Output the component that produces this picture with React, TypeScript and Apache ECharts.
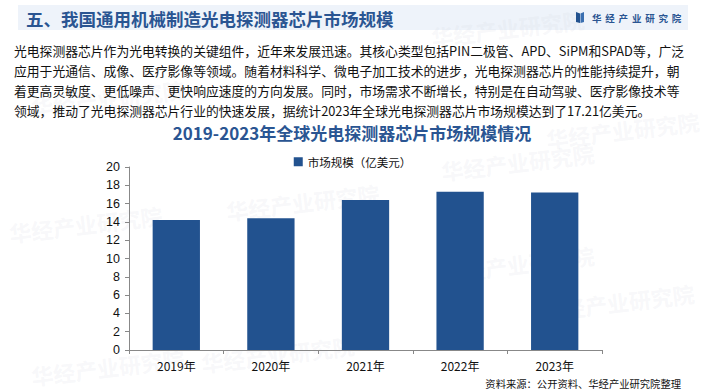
import React, { useEffect, useRef } from "react";
import * as echarts from "echarts";

const categories = ["2019年", "2020年", "2021年", "2022年", "2023年"];
const marketSize = [14.2, 14.4, 16.4, 17.3, 17.21];
const seriesName = "市场规模（亿美元）";
const headerTitle = "五、我国通用机械制造光电探测器芯片市场规模";
const chartTitle = "2019-2023年全球光电探测器芯片市场规模情况";
const paragraphLines = [
  "光电探测器芯片作为光电转换的关键组件，近年来发展迅速。其核心类型包括PIN二极管、APD、SiPM和SPAD等，广泛",
  "应用于光通信、成像、医疗影像等领域。随着材料科学、微电子加工技术的进步，光电探测器芯片的性能持续提升，朝",
  "着更高灵敏度、更低噪声、更快响应速度的方向发展。同时，市场需求不断增长，特别是在自动驾驶、医疗影像技术等",
  "领域，推动了光电探测器芯片行业的快速发展，据统计2023年全球光电探测器芯片市场规模达到了17.21亿美元。",
];
const sourceText = "资料来源：公开资料、华经产业研究院整理";
const brandText = "华经产业研究院";

const CJK = '"Noto Sans CJK SC", "Noto Sans", sans-serif';
const LAT = '"Liberation Sans", Arial, sans-serif';
const BLUE = "#22528f";

export default function App() {
  const ref = useRef<HTMLDivElement>(null);
  useEffect(() => {
    if (!ref.current) return;
    const chart = echarts.init(ref.current, null, { renderer: "svg" });

    const watermarks = [
      [430, 26], [30, 96], [440, 160], [225, 200], [8, 222], [545, 128],
      [440, 262], [200, 352], [30, 365], [540, 300],
    ].map(([x, y]) => ({
      type: "text",
      x,
      y,
      rotation: 0.12,
      z: 0,
      silent: true,
      style: {
        text: brandText,
        font: `bold 22px ${CJK}`,
        fill: "rgba(200,205,215,0.15)",
      },
    }));

    const graphic: any[] = [
      {
        type: "rect",
        shape: { x: 18, y: 5, width: 670, height: 25 },
        style: { fill: "#eef3fa" },
        z: -1,
      },
      ...watermarks,
      {
        type: "text",
        x: 26,
        y: 18,
        style: {
          text: headerTitle,
          font: `bold 17.5px ${CJK}`,
          fill: "#2a5592",
          textVerticalAlign: "middle",
        },
      },
      {
        type: "polygon",
        shape: { points: [[576, 12], [580, 13.5], [580, 23], [576, 22]] },
        style: { fill: BLUE },
      },
      {
        type: "polygon",
        shape: { points: [[580.5, 13.5], [584, 12], [584, 22], [580.5, 23]] },
        style: { fill: "#3a6fb0" },
      },
      {
        type: "text",
        x: 592,
        y: 18,
        style: {
          text: brandText.split("").join("\u2009\u2009"),
          font: `bold 9.5px ${CJK}`,
          fill: "#2a5592",
          textVerticalAlign: "middle",
        },
      },
      ...paragraphLines.map((line, i) => ({
        type: "text",
        x: 14,
        y: 50 + i * 20,
        style: {
          text: line,
          font: `12.8px ${CJK}`,
          fill: "#111",
          textVerticalAlign: "middle",
        },
      })),
      {
        type: "text",
        x: 352,
        y: 132,
        style: {
          text: chartTitle,
          font: `bold 17px ${CJK}`,
          fill: "#2a5592",
          textAlign: "center",
          textVerticalAlign: "middle",
        },
      },
      {
        type: "text",
        x: 681,
        y: 383,
        style: {
          text: sourceText,
          font: `10.3px ${CJK}`,
          fill: "#111",
          textAlign: "right",
          textVerticalAlign: "middle",
        },
      },
    ];

    chart.setOption({
      animation: false,
      graphic,
      legend: {
        data: [seriesName],
        top: 151,
        left: "center",
        itemWidth: 9,
        itemHeight: 9,
        itemGap: 4,
        icon: "rect",
        textStyle: { fontFamily: CJK, fontSize: 11.5, color: "#111" },
      },
      grid: { left: 129, right: 103, top: 167, bottom: 42 },
      xAxis: {
        type: "category",
        data: categories,
        axisLine: { lineStyle: { color: "#888" } },
        axisTick: { show: true, length: 4, lineStyle: { color: "#888" } },
        axisLabel: { color: "#111", fontFamily: CJK, fontSize: 12, margin: 9 },
      },
      yAxis: {
        type: "value",
        min: 0,
        max: 20,
        interval: 2,
        axisLine: { show: true, lineStyle: { color: "#888" } },
        axisTick: { show: true, length: 4, lineStyle: { color: "#888" } },
        splitLine: { show: false },
        axisLabel: { color: "#111", fontFamily: LAT, fontSize: 12.5, margin: 9 },
      },
      series: [
        {
          name: seriesName,
          type: "bar",
          data: marketSize,
          barWidth: "50%",
          itemStyle: { color: BLUE },
        },
      ],
    });
    return () => chart.dispose();
  }, []);
  return (
    <div
      ref={ref}
      style={{ position: "fixed", left: 0, top: 0, width: 705, height: 392, background: "#fff" }}
    />
  );
}
